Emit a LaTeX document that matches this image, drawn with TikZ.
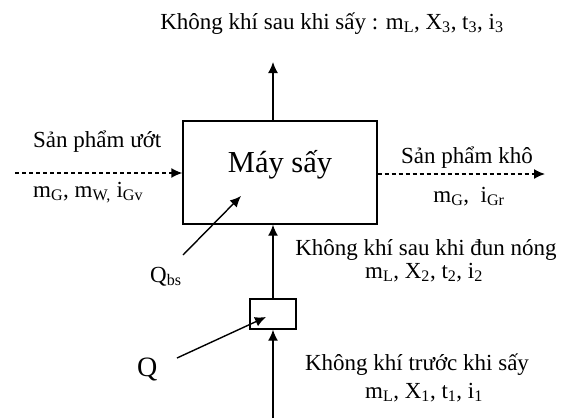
\documentclass[tikz,border=0pt]{standalone}
\usepackage{fontspec}
\setmainfont{Liberation Serif}
\usetikzlibrary{arrows.meta}
\newcommand{\sbs}[1]{\textsubscript{#1}}
\begin{document}
\begin{tikzpicture}[x=1pt,y=-1pt,
  lbl/.style={font=\fontsize{23}{27}\selectfont, inner sep=0pt},
  flow/.style={line width=1.4pt, -{Latex[length=11pt,width=10pt]}},
  dflow/.style={flow, dash pattern=on 4pt off 3pt},
  boxst/.style={draw, line width=1.4pt, inner sep=0pt}]
\useasboundingbox (0,0) rectangle (567,418);
% boxes
\node[boxst, minimum width=194pt, minimum height=103pt] (dryer) at (280,172.5) {};
\node[lbl, font=\fontsize{30.5}{34}\selectfont, anchor=base] (dryerlbl) at (280,172) {Máy sấy};
\node[boxst, minimum width=46pt, minimum height=30pt] (heater) at (273,314) {};
% coordinates
\coordinate (topend) at (273,62);
\coordinate (leftstart) at (15,173);
\coordinate (rightend) at (545,174);
\coordinate (bottomstart) at (273,418);
\coordinate (qstart) at (177,358);
\coordinate (qend) at (266,317);
\coordinate (qbsstart) at (183,255);
\coordinate (qbsend) at (241,196);
% connectors
\draw[flow] (dryer.north -| topend) -- (topend);
\draw[dflow] (leftstart) -- (leftstart -| dryer.west);
\draw[dflow] (dryer.east |- rightend) -- (rightend);
\draw[flow] (heater.north) -- (dryer.south -| heater.north);
\draw[flow] (bottomstart) -- (heater.south);
\draw[flow] (qstart) -- (qend);
\draw[flow] (qbsstart) -- (qbsend);
% labels
\node[lbl, anchor=base] (toplbl) at (332,29) {Không khí sau khi sấy : m\sbs{L}, X\sbs{3}, t\sbs{3}, i\sbs{3}};
\node[lbl, anchor=base west] (wet) at (33,147) {Sản phẩm ướt};
\node[lbl, anchor=base west] (wetvars) at (33,197) {m\sbs{G}, m\sbs{W,} i\sbs{Gv}};
\node[lbl, anchor=base] (dry) at (467,163) {Sản phẩm khô};
\node[lbl, anchor=base] (dryvars) at (469,202) {m\sbs{G},\ \ i\sbs{Gr}};
\node[lbl, anchor=base] (heated) at (426,255) {Không khí sau khi đun nóng};
\node[lbl, anchor=base] (heatedvars) at (424,278) {m\sbs{L}, X\sbs{2}, t\sbs{2}, i\sbs{2}};
\node[lbl, anchor=base west] (qbs) at (150,282) {Q\sbs{bs}};
\node[lbl, font=\fontsize{28}{32}\selectfont, anchor=base west] (q) at (137,376) {Q};
\node[lbl, anchor=base] (before) at (417,370) {Không khí trước khi sấy};
\node[lbl, anchor=base] (beforevars) at (424,398) {m\sbs{L}, X\sbs{1}, t\sbs{1}, i\sbs{1}};
\end{tikzpicture}
\end{document}
